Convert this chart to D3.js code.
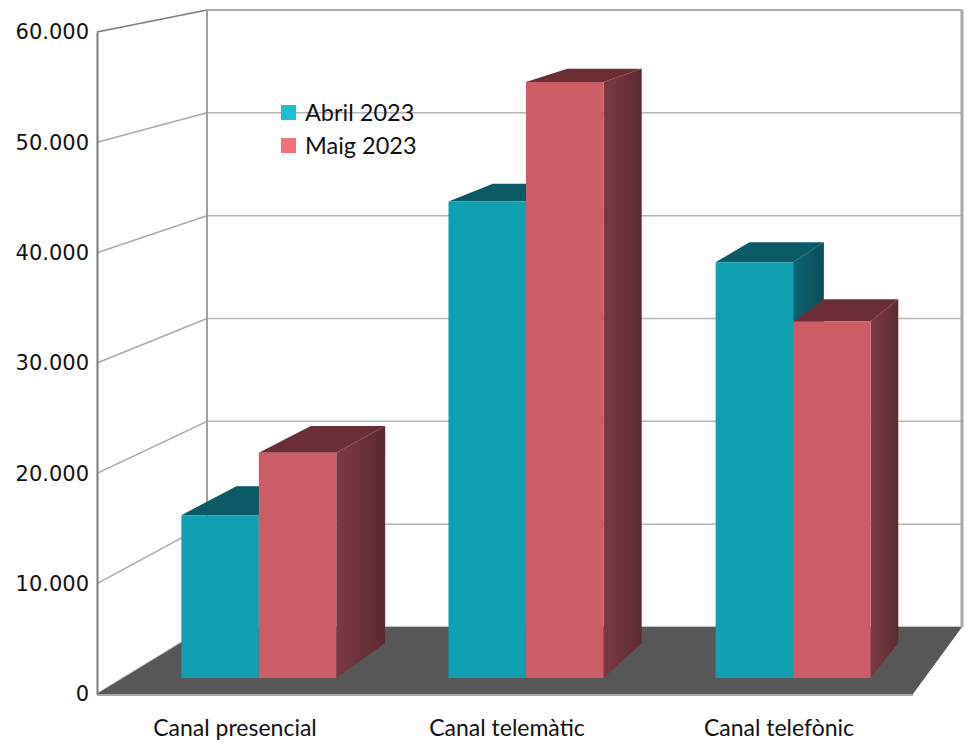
<!DOCTYPE html>
<html>
<head>
<meta charset="utf-8">
<title>Canals</title>
<style>
body { margin: 0; background: #fff; }
svg { display: block; }
.tick text { font-family: 'DejaVu Sans', sans-serif; font-size: 21px; fill: #111; }
.cat { font-family: Lato, sans-serif; font-size: 23px; fill: #111; }
.leg { font-family: Lato, sans-serif; font-size: 23.5px; fill: #111; }
</style>
</head>
<body>
<svg></svg>
<script src="https://d3js.org/d3.v7.min.js"></script>
<script>
const categories = ['Canal presencial', 'Canal telemàtic', 'Canal telefònic'];
const series = ['Abril 2023', 'Maig 2023'];
const abril = [15000, 43900, 38300];
const maig = [20750, 54900, 32850];
const yTicks = [0, 10000, 20000, 30000, 40000, 50000, 60000];

const width = 969, height = 745;

// front plane and back plane of the 3d box
const front = { x0: 97, x1: 913, y0: 694, y1: 32 };
const back  = { x0: 207, x1: 962, y0: 627, y1: 10 };
const t0 = 0.239, t1 = 0.76;   // bar depth (0 = front, 1 = back wall)

const colors = {
  abril: { leg: '#1bbfd1', front: '#0f9fb1', top: '#0a5a66', side: ['#0c6673', '#094b55'] },
  maig:  { leg: '#f2707b', front: '#cc5d67', top: '#6c2e36', side: ['#7c3a43', '#5c2930'] }
};

const fmt = d3.formatLocale({ decimal: ',', thousands: '.', grouping: [3], currency: ['', ''] }).format(',d');

const yF = d3.scaleLinear([0, 60000], [front.y0, front.y1]);
const yB = d3.scaleLinear([0, 60000], [back.y0, back.y1]);
const xB = d3.scaleLinear([front.x0, front.x1], [back.x0, back.x1]);

const x = d3.scaleBand(categories, [front.x0 + 2, front.x1 + 2]).paddingInner(0.42).paddingOuter(0.21);
const xs = d3.scaleBand(series, [0, x.bandwidth()]);

// project a point (front-plane x, value, depth)
const P = (xf, v, t) => [xf + t * (xB(xf) - xf), yF(v) + t * (yB(v) - yF(v))];
const poly = pts => 'M' + pts.map(p => p.join(',')).join('L') + 'Z';

const svg = d3.select('svg').attr('width', width).attr('height', height);
const defs = svg.append('defs');

Object.entries(colors).forEach(([k, c]) => {
  const g = defs.append('linearGradient').attr('id', 'side-' + k);
  g.append('stop').attr('offset', '0%').attr('stop-color', c.side[0]);
  g.append('stop').attr('offset', '100%').attr('stop-color', c.side[1]);
});

const walls = svg.append('g');

// back wall gridlines
walls.selectAll('.bgrid').data(yTicks).join('line')
  .attr('x1', d => P(front.x0, d, 1)[0]).attr('y1', d => P(front.x0, d, 1)[1])
  .attr('x2', d => P(front.x1, d, 1)[0]).attr('y2', d => P(front.x1, d, 1)[1])
  .attr('stroke', d => d === 60000 ? '#8c8c8c' : '#b4b4b4').attr('stroke-width', 1.5);

// left wall gridlines
walls.selectAll('.lgrid').data(yTicks).join('line')
  .attr('x1', d => P(front.x0, d, 0)[0]).attr('y1', d => P(front.x0, d, 0)[1])
  .attr('x2', d => P(front.x0, d, 1)[0]).attr('y2', d => P(front.x0, d, 1)[1])
  .attr('stroke', d => d === 60000 ? '#7a7a7a' : '#a8a8a8').attr('stroke-width', 1.5);

// back wall verticals
[front.x0, front.x1].forEach(xx => {
  const a = P(xx, 0, 1), b = P(xx, 60000, 1);
  walls.append('line').attr('x1', a[0]).attr('y1', a[1]).attr('x2', b[0]).attr('y2', b[1])
    .attr('stroke', xx === front.x0 ? '#a0a0a0' : '#a8a8a8').attr('stroke-width', xx === front.x0 ? 2 : 3);
});

// floor
walls.append('path')
  .attr('d', poly([P(front.x0, 0, 0), P(front.x1, 0, 0), P(front.x1, 0, 1), P(front.x0, 0, 1)]))
  .attr('fill', '#575757');

walls.append('line')
  .attr('x1', front.x0).attr('x2', front.x1).attr('y1', yF(0) + 1).attr('y2', yF(0) + 1)
  .attr('stroke', '#8a8a8a').attr('stroke-width', 1.5);

// y axis on the front plane
const ax = svg.append('g')
  .attr('transform', `translate(${front.x0},0)`)
  .call(d3.axisLeft(yF).tickValues(yTicks).tickFormat(fmt).tickSize(0).tickPadding(8));
ax.select('.domain').attr('stroke', '#7a7a7a').attr('stroke-width', 2);

// bars
const bars = svg.append('g');
const data = [];
categories.forEach((c, i) => {
  data.push({ cat: c, key: 'abril', s: series[0], v: abril[i] });
  data.push({ cat: c, key: 'maig', s: series[1], v: maig[i] });
});

data.forEach(d => {
  const xl = x(d.cat) + xs(d.s), xr = xl + xs.bandwidth();
  const c = colors[d.key];
  bars.append('path')
    .attr('d', poly([P(xr, 0, t0), P(xr, d.v, t0), P(xr, d.v, t1), P(xr, 0, t1)]))
    .attr('fill', `url(#side-${d.key})`);
  bars.append('path')
    .attr('d', poly([P(xl, d.v, t0), P(xr, d.v, t0), P(xr, d.v, t1), P(xl, d.v, t1)]))
    .attr('fill', c.top);
  bars.append('path')
    .attr('d', poly([P(xl, 0, t0), P(xr, 0, t0), P(xr, d.v, t0), P(xl, d.v, t0)]))
    .attr('fill', c.front);
});

// category labels
svg.selectAll('.cat').data(categories).join('text')
  .attr('class', 'cat')
  .attr('x', d => x(d) + x.bandwidth() / 2)
  .attr('y', 736)
  .attr('text-anchor', 'middle')
  .text(d => d);

// legend
const leg = svg.append('g').attr('transform', 'translate(281,105)');
series.forEach((s, i) => {
  const g = leg.append('g').attr('transform', `translate(0,${i * 33})`);
  g.append('rect').attr('width', 15).attr('height', 15).attr('fill', i ? colors.maig.leg : colors.abril.leg);
  g.append('text').attr('class', 'leg').attr('x', 24).attr('y', 16).text(s);
});
</script>
</body>
</html>
